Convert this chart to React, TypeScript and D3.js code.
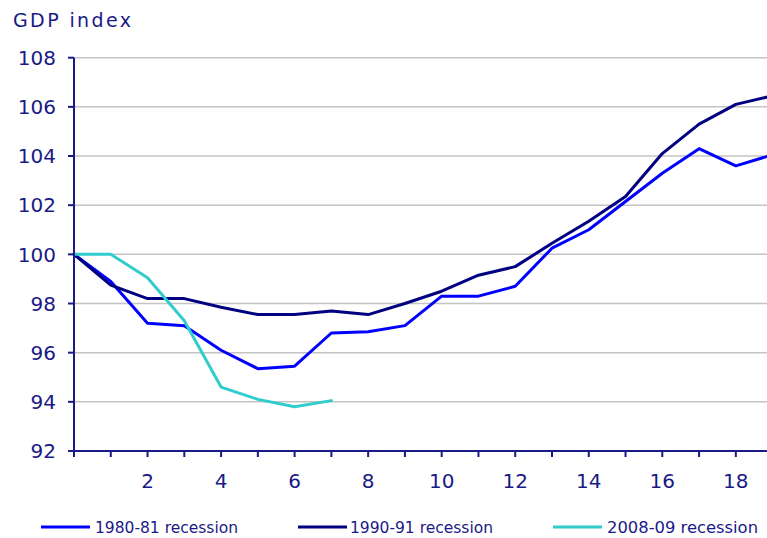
import React from "react";
import * as d3 from "d3";

// quarters since the start of each recession
const quarters = d3.range(0, 20);
const recession8081 = [100, 98.9, 97.2, 97.1, 96.1, 95.35, 95.45, 96.8, 96.85, 97.1, 98.3, 98.3, 98.7, 100.25, 101.0, 102.15, 103.3, 104.3, 103.6, 104.05];
const recession9091 = [100, 98.75, 98.2, 98.2, 97.85, 97.55, 97.55, 97.7, 97.55, 98.0, 98.5, 99.15, 99.5, 100.45, 101.35, 102.35, 104.1, 105.3, 106.1, 106.45];
const recession0809 = [100, 100, 99.05, 97.3, 94.6, 94.1, 93.8, 94.05];

const seriesNames = ["1980-81 recession", "1990-91 recession", "2008-09 recession"];
const seriesColors = ["#0000ff", "#000080", "#33cccc"];
const yTicks = [92, 94, 96, 98, 100, 102, 104, 106, 108];
const xLabelTicks = [2, 4, 6, 8, 10, 12, 14, 16, 18];

const width = 767;
const height = 538;
const textColor = "#1a1a86";
const font = "'DejaVu Sans', Verdana, sans-serif";

export default function App() {
  const x = d3.scaleLinear().domain([0, 19]).range([74, 772.6]);
  const y = d3.scaleLinear().domain([92, 108]).range([451, 57.7]);

  const line = d3.line<number>()
    .x((d, i) => x(quarters[i]))
    .y(d => y(d));

  const series = [recession8081, recession9091, recession0809];

  // legend: line start, text start, text width
  const legend = [
    { lx: 41, tx: 95, tw: 143 },
    { lx: 298, tx: 350, tw: 143 },
    { lx: 553, tx: 607, tw: 151 }
  ];

  return (
    <svg width={width} height={height} style={{ position: "absolute", left: 0, top: 0 }} fontFamily={font}>
      <rect width={width} height={height} fill="#fff" />

      {/* title */}
      <text x={13} y={27} fontSize={19} fill={textColor} textLength={118} lengthAdjust="spacing">GDP index</text>

      {/* gridlines */}
      <g stroke="#c4c4c4" strokeWidth={1.5}>
        {yTicks.filter(t => t > 92).map(t => (
          <line key={t} x1={x(0)} x2={width} y1={y(t)} y2={y(t)} />
        ))}
      </g>

      {/* lines */}
      <g fill="none" strokeWidth={3} strokeLinejoin="round" strokeLinecap="round">
        {series.map((s, i) => (
          <path key={i} d={line(s) || ""} stroke={seriesColors[i]} />
        ))}
      </g>

      {/* y axis */}
      <g stroke={textColor} strokeWidth={2}>
        <line x1={x(0)} x2={x(0)} y1={y(108)} y2={y(92)} />
        {yTicks.map(t => (
          <line key={t} x1={x(0) - 6} x2={x(0)} y1={y(t)} y2={y(t)} />
        ))}
      </g>
      <g fill={textColor} fontSize={20} textAnchor="end">
        {yTicks.map(t => (
          <text key={t} x={56} y={y(t)} dy="0.36em">{t}</text>
        ))}
      </g>

      {/* x axis */}
      <g stroke={textColor} strokeWidth={2}>
        <line x1={x(0) - 6} x2={width} y1={y(92)} y2={y(92)} />
        {quarters.map(q => (
          <line key={q} x1={x(q)} x2={x(q)} y1={y(92)} y2={y(92) + 6} />
        ))}
      </g>
      <g fill={textColor} fontSize={20} textAnchor="middle">
        {xLabelTicks.map(t => (
          <text key={t} x={x(t)} y={488}>{t}</text>
        ))}
      </g>

      {/* legend */}
      {legend.map((l, i) => (
        <g key={i}>
          <line x1={l.lx} x2={l.lx + 49} y1={527} y2={527} stroke={seriesColors[i]} strokeWidth={3} />
          <text x={l.tx} y={533} fontSize={16} fill={textColor} textLength={l.tw} lengthAdjust="spacingAndGlyphs">{seriesNames[i]}</text>
        </g>
      ))}
    </svg>
  );
}
